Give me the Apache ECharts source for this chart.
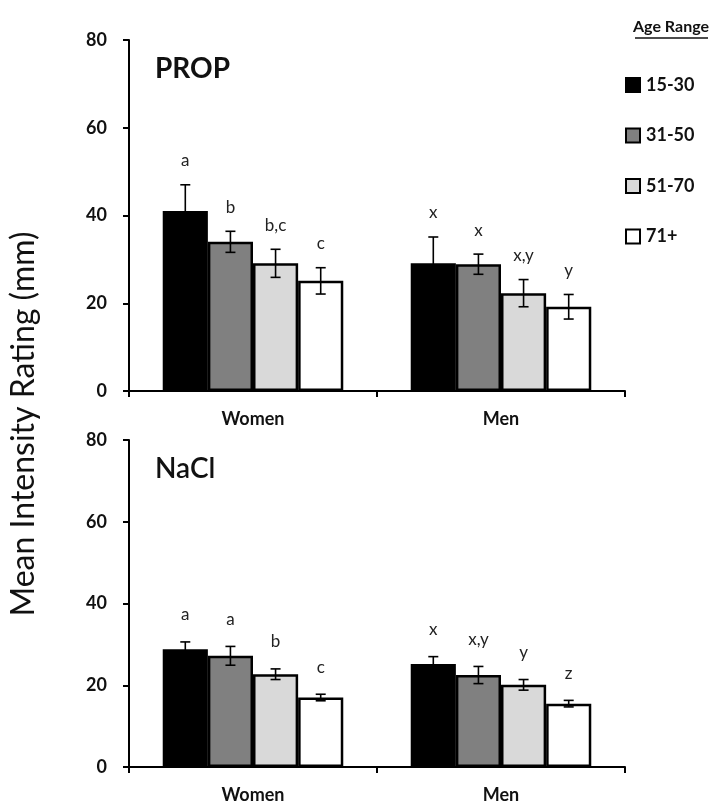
<!DOCTYPE html>
<html>
<head>
<meta charset="utf-8">
<script src="https://cdn.jsdelivr.net/npm/echarts@6/dist/echarts.min.js"></script>
<style>
html,body{margin:0;padding:0;background:#fff;}
#chart{width:711px;height:805px;}
</style>
</head>
<body>
<div id="chart"></div>
<script>
// ---- data ----
const categories = ['Women', 'Men'];
const ageGroups = ['15-30', '31-50', '51-70', '71+'];
// by age group: [Women, Men]
const propMeans = [[41.0, 29.1], [34.0, 28.9], [29.1, 22.3], [25.1, 19.2]];
const propErr = [[6.0, 6.0], [2.4, 2.3], [3.2, 3.1], [3.0, 2.8]];
const propLetters = [['a', 'x'], ['b', 'x'], ['b,c', 'x,y'], ['c', 'y']];
const naclMeans = [[28.8, 25.2], [27.2, 22.5], [22.7, 20.1], [17.0, 15.5]];
const naclErr = [[1.8, 1.8], [2.3, 2.1], [1.3, 1.3], [0.8, 0.8]];
const naclLetters = [['a', 'x'], ['a', 'x,y'], ['b', 'y'], ['c', 'z']];
const yTicks = [0, 20, 40, 60, 80];
const panelTitles = ['PROP', 'NaCl'];
const yTitle = 'Mean Intensity Rating (mm)';
const legendTitle = 'Age Range';

// ---- style ----
const colors = ['#000000', '#808080', '#d9d9d9', '#ffffff'];
const BAR_FRAC = 0.182;
const FONT = 'Lato, "Open Sans", sans-serif';

const chart = echarts.init(document.getElementById('chart'));

function panelSeries(gi, means, errs, letters, labelOffset) {
  const s = [];
  ageGroups.forEach((g, i) => {
    s.push({
      name: g, type: 'bar', xAxisIndex: gi, yAxisIndex: gi,
      barWidth: (BAR_FRAC * 100) + '%', barGap: '0%',
      itemStyle: { color: colors[i], borderColor: '#000', borderWidth: 2.5 },
      emphasis: { disabled: true },
      data: means[i]
    });
  });
  const errData = [];
  const letterList = [];
  ageGroups.forEach((g, i) => {
    categories.forEach((c, j) => {
      errData.push([j, means[i][j], errs[i][j], i]);
      letterList.push(letters[i][j]);
    });
  });
  s.push({
    type: 'custom', xAxisIndex: gi, yAxisIndex: gi, z: 10,
    silent: true,
    data: errData,
    renderItem: function (params, api) {
      const cat = api.value(0), m = api.value(1), e = api.value(2), g = api.value(3);
      const band = api.size([1, 0])[0];
      const bw = band * BAR_FRAC;
      const cx = api.coord([cat, 0])[0] + (g - 1.5) * bw;
      const yt = api.coord([cat, m + e])[1];
      const yb = api.coord([cat, m - e])[1];
      const cap = 5;
      const st = { stroke: '#000', lineWidth: 1.6 };
      return {
        type: 'group',
        children: [
          { type: 'line', shape: { x1: cx, y1: yt, x2: cx, y2: yb }, style: st },
          { type: 'line', shape: { x1: cx - cap, y1: yt, x2: cx + cap, y2: yt }, style: st },
          { type: 'line', shape: { x1: cx - cap, y1: yb, x2: cx + cap, y2: yb }, style: st },
          { type: 'text', style: { text: letterList[params.dataIndex], x: cx, y: yt - labelOffset,
              align: 'center', verticalAlign: 'middle', fill: '#222', font: '17px ' + FONT } }
        ]
      };
    }
  });
  return s;
}

const xAxisCommon = {
  type: 'category', data: categories,
  axisLine: { lineStyle: { color: '#000', width: 2 } },
  axisTick: { show: true, length: 6, lineStyle: { color: '#000', width: 2 } },
  axisLabel: { color: '#111', fontWeight: 'bold', fontSize: 18, fontFamily: FONT, margin: 19 }
};
const yAxisCommon = {
  type: 'value', min: yTicks[0], max: yTicks[yTicks.length - 1], interval: 20,
  axisLine: { show: true, lineStyle: { color: '#000', width: 2 } },
  axisTick: { show: true, length: 6, lineStyle: { color: '#000', width: 2 } },
  splitLine: { show: false },
  axisLabel: { color: '#111', fontWeight: 'bold', fontSize: 18, fontFamily: FONT, margin: 22 }
};

const option = {
  animation: false,
  backgroundColor: '#fff',
  grid: [
    { left: 129, right: 86, top: 40, height: 351 },
    { left: 129, right: 86, top: 440, height: 327 }
  ],
  xAxis: [Object.assign({ gridIndex: 0 }, xAxisCommon), Object.assign({ gridIndex: 1 }, xAxisCommon)],
  yAxis: [Object.assign({ gridIndex: 0 }, yAxisCommon), Object.assign({ gridIndex: 1 }, yAxisCommon)],
  legend: {
    data: ageGroups, orient: 'vertical', left: 625, top: 76, padding: 0,
    itemWidth: 14, itemHeight: 14, itemGap: 32.5, icon: 'rect',
    textStyle: { color: '#111', fontWeight: 'bold', fontSize: 18, fontFamily: FONT, padding: [0, 0, 0, 1] },
    selectedMode: false
  },
  graphic: [
    { type: 'text', left: 155, top: 55, style: { text: panelTitles[0], font: 'bold 28px ' + FONT, fill: '#111' } },
    { type: 'text', left: 155, top: 455, style: { text: panelTitles[1], font: '600 28px ' + FONT, fill: '#111' } },
    { type: 'text', x: 24, y: 424, rotation: Math.PI / 2,
      style: { text: yTitle, font: '32px ' + FONT, fill: '#111', align: 'center', verticalAlign: 'middle' } },
    { type: 'text', x: 671, y: 27, style: { text: legendTitle, font: 'bold 16px ' + FONT, fill: '#111', align: 'center', verticalAlign: 'middle' } },
    { type: 'line', shape: { x1: 635, y1: 38, x2: 708, y2: 38 }, style: { stroke: '#111', lineWidth: 1.3 } }
  ],
  series: [].concat(
    panelSeries(0, propMeans, propErr, propLetters, 24),
    panelSeries(1, naclMeans, naclErr, naclLetters, 27)
  )
};
chart.setOption(option);
</script>
</body>
</html>
